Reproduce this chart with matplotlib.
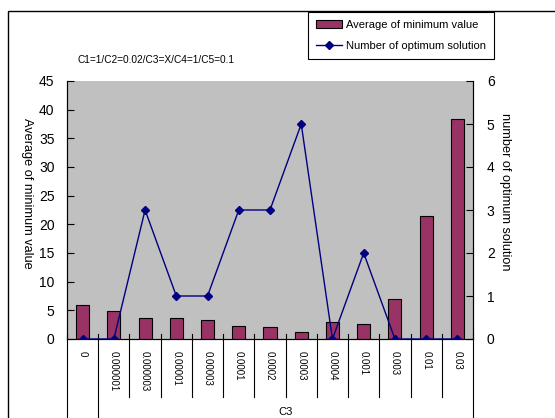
import matplotlib
matplotlib.use("Agg")
import matplotlib.pyplot as plt
from matplotlib.patches import Rectangle
from matplotlib.lines import Line2D

# Data
categories = ["0", "0.000001", "0.000003", "0.00001", "0.00003", "0.0001",
              "0.0002", "0.0003", "0.0004", "0.001", "0.003", "0.01", "0.03"]
avg_min_value = [6.0, 4.8, 3.7, 3.7, 3.4, 2.3, 2.1, 1.3, 2.9, 2.7, 6.9, 21.5, 38.4]
num_optimum = [0, 0, 3, 1, 1, 3, 3, 5, 0, 2, 0, 0, 0]
group_label = "C3"
title_text = "C1=1/C2=0.02/C3=X/C4=1/C5=0.1"

plt.rcParams["font.family"] = ["Liberation Sans", "DejaVu Sans"]

W, H = 555, 418
fig = plt.figure(figsize=(W / 100, H / 100), dpi=100)
fig.patch.set_facecolor("white")

# outer chart frame (runs off the right and bottom edges)
frame_top = 1 - 11 / H
fig.patches.append(Rectangle((8 / W, -0.2), 1.2, frame_top + 0.2,
                             transform=fig.transFigure, fill=False,
                             edgecolor="black", linewidth=1.0))

left, right, top, bottom = 67, 473, 81, 339
ax = fig.add_axes([left / W, 1 - bottom / H, (right - left) / W, (bottom - top) / H])
ax.set_facecolor("#C0C0C0")

x = list(range(len(categories)))
bars = ax.bar(x, avg_min_value, width=0.42, color="#993366", edgecolor="black",
              linewidth=0.8, label="Average of minimum value", zorder=3)
ax.set_xlim(-0.5, len(categories) - 0.5)
ax.set_ylim(0, 45)
ax.set_yticks(range(0, 46, 5))
ax.tick_params(axis="y", direction="in", length=5, pad=9, labelsize=10)
ax.set_xticks([])
ax.spines["top"].set_visible(False)
ax.spines["left"].set_color("black")
ax.spines["bottom"].set_color("black")

ax2 = ax.twinx()
line, = ax2.plot(x, num_optimum, color="#000080", linewidth=1.0, marker="D",
                 markersize=4, markerfacecolor="#000080", markeredgecolor="#000080",
                 label="Number of optimum solution", zorder=4)
ax2.set_ylim(0, 6)
ax2.set_yticks(range(0, 7))
ax2.tick_params(axis="y", direction="in", length=5, pad=10, labelsize=10)
ax2.spines["top"].set_visible(False)

ax.set_ylabel("Average of minimum value", rotation=270, fontsize=9.2,
              va="center", ha="center")
ax.yaxis.set_label_coords(-0.098, 0.564)
ax2.set_ylabel("number of optimum solution", rotation=270, fontsize=9.2,
               va="center", ha="center")
ax2.yaxis.set_label_coords(1.08, 0.57)

# category axis: boundaries, labels, group
trans = ax.get_xaxis_transform()
n = len(categories)
for i in range(n + 1):
    xb = i - 0.5
    ybot = -0.35 if i in (0, 1, n) else -0.225
    ax.add_line(Line2D([xb, xb], [ybot, 0.02], transform=trans, color="black",
                       linewidth=0.8, clip_on=False, zorder=5))
for i, lab in enumerate(categories):
    ax.text(i, -0.045, lab, transform=trans, rotation=270, ha="center", va="top",
            fontsize=7)
ax.text((1 + n - 1) / 2, -0.283, group_label, transform=trans, ha="center",
        va="center", fontsize=8)

fig.text(78 / W, 1 - 60 / H, title_text, ha="left", va="center", fontsize=7.3)

leg = fig.legend(handles=[bars, line], loc="upper left",
                 bbox_to_anchor=(308 / W, 1 - 12 / H), borderaxespad=0,
                 fancybox=False, edgecolor="black", framealpha=1, fontsize=8,
                 handlelength=2.4, handletextpad=0.3, borderpad=0.7,
                 labelspacing=1.0)
leg.get_frame().set_linewidth(0.8)

fig.savefig("out.png", dpi=100)
